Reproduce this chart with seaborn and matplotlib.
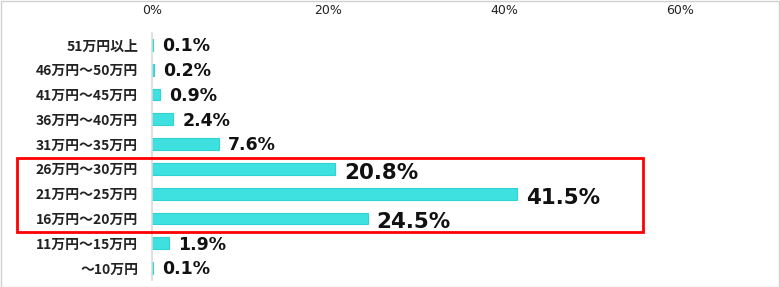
import matplotlib
matplotlib.use("Agg")
import matplotlib.pyplot as plt
import seaborn as sns
import pandas as pd
from matplotlib.patches import Rectangle

categories = ["51万円以上", "46万円～50万円", "41万円～45万円", "36万円～40万円", "31万円～35万円",
              "26万円～30万円", "21万円～25万円", "16万円～20万円", "11万円～15万円", "～10万円"]
values = [0.1, 0.2, 0.9, 2.4, 7.6, 20.8, 41.5, 24.5, 1.9, 0.1]
value_labels = ["0.1%", "0.2%", "0.9%", "2.4%", "7.6%", "20.8%", "41.5%", "24.5%", "1.9%", "0.1%"]
highlight = [False, False, False, False, False, True, True, True, False, False]
x_ticks = [0, 20, 40, 60]
x_tick_labels = ["0%", "20%", "40%", "60%"]

df = pd.DataFrame({"cat": categories, "val": values})

sns.set_theme(style="white")
plt.rcParams['font.family'] = ['Noto Sans CJK JP', 'DejaVu Sans']

fig = plt.figure(figsize=(7.8, 2.87), dpi=100)
ax = fig.add_axes([152/780, 1-280.4/287, (760-152)/780, (280.4-32.6)/287])

sns.barplot(data=df, y="cat", x="val", orient="h", color="#3fe0e0", saturation=1,
            width=0.48, edgecolor="#2fd3d3", linewidth=0.8, ax=ax)

xmax = (760-152)/8.8
ax.set_xlim(0, xmax)
ax.set_ylim(9.5, -0.5)
ax.xaxis.tick_top()
ax.set_xticks(x_ticks)
ax.set_xticklabels(x_tick_labels, fontsize=9, family=['DejaVu Sans'], color="#222222")
ax.tick_params(axis="x", length=0, pad=11)
ax.tick_params(axis="y", length=0, pad=10)
for lab in ax.get_yticklabels():
    lab.set_fontweight("bold")
    lab.set_fontsize(10)
    lab.set_color("#222222")
ax.set_xlabel("")
ax.set_ylabel("")
for s in ["top", "right", "bottom"]:
    ax.spines[s].set_visible(False)
ax.spines["left"].set_color("#d9d9d9")
ax.spines["left"].set_linewidth(1.2)

for i, (v, lab, h) in enumerate(zip(values, value_labels, highlight)):
    ax.annotate(lab, xy=(v, i), xytext=(6.5, -2.8 if h else -1), textcoords="offset points",
                va="center", ha="left", fontsize=15.4 if h else 12.5,
                fontweight="bold", family=['DejaVu Sans'], color="#111111")

# highlight frame
fig.patches.append(Rectangle((17/780, 1-232/287), (643-17)/780, (232-158)/287,
                             transform=fig.transFigure, fill=False,
                             edgecolor="#ff0000", linewidth=2))
# figure border
fig.patches.append(Rectangle((0.5/780, 0.5/287), 778/780, 285.5/287,
                             transform=fig.transFigure, fill=False,
                             edgecolor="#d0d0d0", linewidth=1))

fig.savefig("out.png", dpi=100)
